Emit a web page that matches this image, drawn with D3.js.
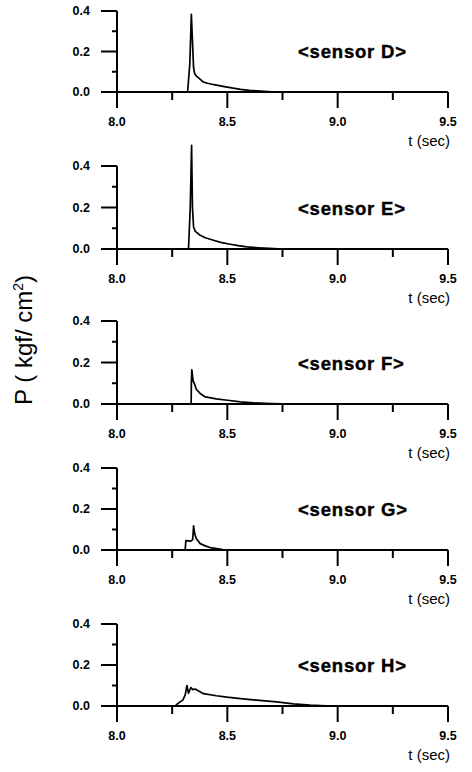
<!DOCTYPE html>
<html>
<head>
<meta charset="utf-8">
<script src="https://cdn.jsdelivr.net/npm/d3@7/dist/d3.min.js"></script>
<style>
  body { margin: 0; background: #fff; }
  svg { display: block; font-family: "Liberation Sans", Arial, sans-serif; }
</style>
</head>
<body>
<svg id="chart"></svg>
<script>
// sensor names, one panel each
var sensors = ["D", "E", "F", "G", "H"];

// time (sec) and pressure (kgf/cm2)
var timeD = [8.0, 8.32, 8.33, 8.337, 8.342, 8.347, 8.352, 8.36, 8.375, 8.39, 8.41, 8.44, 8.48, 8.52, 8.56, 8.6, 8.65, 8.7, 8.75, 9.5];
var presD = [0, 0, 0.14, 0.384, 0.25, 0.12, 0.09, 0.078, 0.065, 0.05, 0.043, 0.036, 0.028, 0.02, 0.013, 0.008, 0.004, 0.001, 0, 0];

var timeE = [8.0, 8.324, 8.332, 8.338, 8.342, 8.347, 8.355, 8.377, 8.4, 8.437, 8.47, 8.513, 8.55, 8.588, 8.64, 8.69, 8.75, 9.5];
var presE = [0, 0, 0.2, 0.5, 0.2, 0.106, 0.085, 0.066, 0.054, 0.042, 0.032, 0.023, 0.016, 0.01, 0.006, 0.003, 0, 0];

var timeF = [8.0, 8.336, 8.337, 8.339, 8.345, 8.35, 8.36, 8.38, 8.40, 8.45, 8.5, 8.56, 8.62, 8.7, 8.8, 9.5];
var presF = [0, 0, 0.1, 0.165, 0.11, 0.1, 0.07, 0.048, 0.034, 0.025, 0.018, 0.01, 0.005, 0.002, 0, 0];

var timeG = [8.0, 8.309, 8.312, 8.332, 8.343, 8.347, 8.352, 8.359, 8.377, 8.40, 8.422, 8.452, 8.48, 8.5, 9.5];
var presG = [0, 0, 0.046, 0.043, 0.05, 0.118, 0.08, 0.056, 0.031, 0.02, 0.012, 0.007, 0.002, 0, 0];

var timeH = [8.0, 8.264, 8.271, 8.286, 8.299, 8.309, 8.317, 8.324, 8.335, 8.344, 8.354, 8.392, 8.45, 8.498, 8.56, 8.618, 8.67, 8.724, 8.8, 8.875, 8.95, 9.0, 9.5];
var presH = [0, 0, 0.008, 0.02, 0.03, 0.054, 0.1, 0.062, 0.09, 0.08, 0.083, 0.06, 0.05, 0.043, 0.036, 0.03, 0.025, 0.02, 0.01, 0.004, 0.001, 0, 0];

var times = [timeD, timeE, timeF, timeG, timeH];
var pressures = [presD, presE, presF, presG, presH];

var xTicks = [8.0, 8.25, 8.5, 8.75, 9.0, 9.25, 9.5];
var xLabels = [8.0, 8.5, 9.0, 9.5];
var yTicks = [0, 0.1, 0.2, 0.3, 0.4];
var yLabels = [0, 0.2, 0.4];

// vertical placement of each panel: y of the 0.4 tick and of the 0.0 line
var panelTop = [11, 166, 321, 468, 624];
var panelZero = [92, 249, 404, 550, 706];

var svgWidth = 472, svgHeight = 772;
var svg = d3.select("#chart")
            .attr("width", svgWidth)
            .attr("height", svgHeight);

var x = d3.scaleLinear()
          .domain([8.0, 9.5])
          .range([117, 448]);

sensors.forEach(function(name, i) {
    var data = times[i].map(function(t, k) { return { t: t, p: pressures[i][k] }; });

    var y = d3.scaleLinear()
              .domain([0, 0.4])
              .range([panelZero[i], panelTop[i]]);

    var g = svg.append("g");

    // x axis: baseline from left tick to 9.5, ticks going down
    g.append("line")
     .attr("x1", x(8.0) - 16).attr("x2", x(9.5))
     .attr("y1", y(0)).attr("y2", y(0))
     .attr("stroke", "#000").attr("stroke-width", 2);

    g.selectAll(".xt")
     .data(xTicks)
     .enter().append("line")
     .attr("x1", function(d) { return x(d); })
     .attr("x2", function(d) { return x(d); })
     .attr("y1", y(0))
     .attr("y2", function(d) { return y(0) + (xLabels.indexOf(d) >= 0 ? 16 : 8); })
     .attr("stroke", "#000").attr("stroke-width", 2);

    g.selectAll(".xl")
     .data(xLabels)
     .enter().append("text")
     .attr("x", function(d) { return x(d); })
     .attr("y", y(0) + 34)
     .attr("text-anchor", "middle")
     .attr("font-size", 12.5)
     .attr("font-weight", "bold")
     .text(function(d) { return d3.format(".1f")(d); });

    g.append("text")
     .attr("x", 450)
     .attr("y", y(0) + 54)
     .attr("text-anchor", "end")
     .attr("font-size", 15)
     .text("t (sec)");

    // y axis with ticks to the left
    g.append("line")
     .attr("x1", x(8.0)).attr("x2", x(8.0))
     .attr("y1", y(0.4)).attr("y2", y(0) + 1)
     .attr("stroke", "#000").attr("stroke-width", 2);

    g.selectAll(".yt")
     .data(yTicks)
     .enter().append("line")
     .attr("x1", function(d) { return x(8.0) - (yLabels.indexOf(d) >= 0 ? 16 : 5); })
     .attr("x2", x(8.0))
     .attr("y1", function(d) { return y(d); })
     .attr("y2", function(d) { return y(d); })
     .attr("stroke", "#000").attr("stroke-width", 2);

    g.selectAll(".yl")
     .data(yLabels)
     .enter().append("text")
     .attr("x", 90)
     .attr("y", function(d) { return y(d) + 4; })
     .attr("text-anchor", "end")
     .attr("font-size", 12.5)
     .attr("font-weight", "bold")
     .text(function(d) { return d3.format(".1f")(d); });

    // pressure trace
    var line = d3.line()
                 .x(function(d) { return x(d.t); })
                 .y(function(d) { return y(d.p); });

    g.append("path")
     .datum(data)
     .attr("fill", "none")
     .attr("stroke", "#000")
     .attr("stroke-width", 1.7)
     .attr("stroke-linejoin", "round")
     .attr("d", line);

    g.append("text")
     .attr("x", 298)
     .attr("y", y(0) - 34)
     .attr("font-size", 18.5)
     .attr("font-weight", "bold")
     .attr("letter-spacing", 0.8)
     .attr("stroke", "#000")
     .attr("stroke-width", 0.4)
     .text("<sensor " + name + ">");
});

// shared y axis title
var ylab = svg.append("text")
              .attr("transform", "translate(32,340) rotate(-90)")
              .attr("text-anchor", "middle")
              .attr("font-size", 24);
ylab.append("tspan").text("P ( kgf/ cm");
ylab.append("tspan").attr("font-size", 14).attr("dy", -9).text("2");
ylab.append("tspan").attr("dy", 9).text(")");
</script>
</body>
</html>
